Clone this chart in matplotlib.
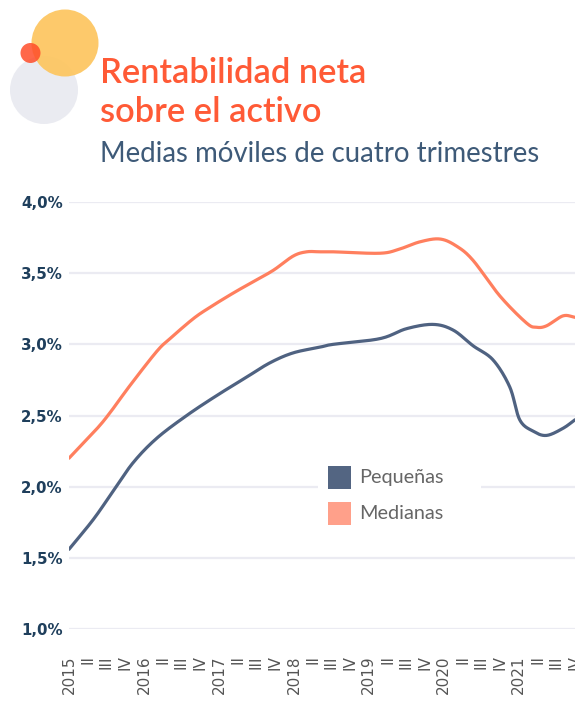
import numpy as np
import matplotlib
matplotlib.use("Agg")
import matplotlib.pyplot as plt
from matplotlib.patches import Circle, Rectangle

# ---------------- data ----------------
title_lines = ["Rentabilidad neta", "sobre el activo"]
subtitle = "Medias móviles de cuatro trimestres"
series_names = ["Pequeñas", "Medianas"]

# x positions in quarters since 2015-I
peq_q = [0, 1.30, 2.36, 3.43, 4.68, 6.28, 7.88, 9.48, 10.72, 11.96, 13.39, 14.10,
         16.59, 18.01, 19.43, 20.50, 21.56, 22.63, 23.52, 24.05, 24.76, 25.48, 26.36, 27.0]
peq_v = [1.56, 1.77, 1.97, 2.17, 2.34, 2.50, 2.64, 2.77, 2.87, 2.94, 2.98, 3.00,
         3.04, 3.11, 3.14, 3.10, 2.99, 2.89, 2.70, 2.47, 2.39, 2.36, 2.41, 2.47]

med_q = [0, 1.44, 2.19, 3.25, 4.68, 5.39, 6.63, 7.52, 8.76, 9.83, 10.90, 11.96, 12.68,
         13.39, 14.10, 16.59, 17.65, 18.72, 19.79, 20.68, 21.56, 22.99, 24.41, 24.94,
         25.48, 26.36, 27.0]
med_v = [2.20, 2.40, 2.52, 2.71, 2.95, 3.04, 3.18, 3.26, 3.36, 3.44, 3.52, 3.62, 3.65,
         3.65, 3.65, 3.64, 3.67, 3.72, 3.74, 3.69, 3.59, 3.34, 3.15, 3.12,
         3.13, 3.20, 3.19]

years = [2015, 2016, 2017, 2018, 2019, 2020, 2021, 2022]
quarter_names = ["", "II", "III", "IV"]
y_ticks = [1.0, 1.5, 2.0, 2.5, 3.0, 3.5, 4.0]

# ---------------- style ----------------
W, H = 575, 702
C_DARK = "#4f6281"
C_ORANGE = "#ff7f5e"
C_GRID = "#ebebf2"
C_TITLE = "#ff5a36"
C_SUB = "#3e5a78"
C_YLAB = "#1f3f5c"
C_XLAB = "#555555"

fig = plt.figure(figsize=(W / 100, H / 100), dpi=100)
fig.patch.set_facecolor("white")


def smooth(xs, ys, n=24):
    P = np.column_stack([xs, ys]).astype(float)
    P = np.vstack([2 * P[0] - P[1], P, 2 * P[-1] - P[-2]])
    out = []
    t = np.linspace(0, 1, n)[:, None]
    for i in range(1, len(P) - 2):
        p0, p1, p2, p3 = P[i - 1], P[i], P[i + 1], P[i + 2]
        seg = 0.5 * (2 * p1 + (-p0 + p2) * t + (2 * p0 - 5 * p1 + 4 * p2 - p3) * t ** 2
                     + (-p0 + 3 * p1 - 3 * p2 + p3) * t ** 3)
        out.append(seg if i == 1 else seg[1:])
    out = np.vstack(out)
    return out[:, 0], out[:, 1]


# ---------------- main axes ----------------
left_px, right_px, top_px, bot_px = 69, 575, 202, 629
ax = fig.add_axes([left_px / W, 1 - bot_px / H, (right_px - left_px) / W, (bot_px - top_px) / H])
ax.set_xlim(0, 27)
ax.set_ylim(1.0, 4.0)
for s in ax.spines.values():
    s.set_visible(False)

ax.set_yticks(y_ticks)
ax.set_yticklabels([f"{v:.1f}".replace(".", ",") + "%" for v in y_ticks])
ax.yaxis.grid(True, color=C_GRID, lw=1.6)
ax.tick_params(axis="y", length=0, pad=4.5, labelsize=10.8, labelcolor=C_YLAB)
for lab in ax.get_yticklabels():
    lab.set_fontweight("bold")
    lab.set_family("DejaVu Sans")

nq = 28
ax.set_xticks(range(nq))
xl = []
for q in range(nq):
    xl.append(str(years[q // 4]) if q % 4 == 0 else quarter_names[q % 4])
ax.set_xticklabels(xl, rotation=90, va="top", ha="center")
ax.tick_params(axis="x", which="major", length=0, pad=19, labelsize=11, labelcolor=C_XLAB)
year_pos = [q for q in range(nq) if q % 4 == 0]
ax.set_xticks(year_pos, minor=True)
ax.xaxis.grid(True, which="minor", color=C_GRID, lw=1.6)
ax.tick_params(axis="x", which="minor", length=11.5, width=1.6, color=C_GRID)
ax.set_axisbelow(True)

xs, ys = smooth(peq_q, peq_v)
ax.plot(xs, ys, color=C_DARK, lw=2.3, solid_capstyle="round", zorder=3)
xs, ys = smooth(med_q, med_v)
ax.plot(xs, ys, color=C_ORANGE, lw=2.3, solid_capstyle="round", zorder=3)

# ---------------- overlay (pixel coordinates) ----------------
ov = fig.add_axes([0, 0, 1, 1], zorder=5)
ov.set_xlim(0, W)
ov.set_ylim(H, 0)
ov.axis("off")
ov.patch.set_alpha(0)

ov.add_patch(Circle((44, 90), 34, color="#eaebf1", lw=0))
ov.add_patch(Circle((65, 43), 33.5, color="#fdc55e", alpha=0.92, lw=0))
ov.add_patch(Circle((30.5, 53), 10, color="#ff4d2a", alpha=0.85, lw=0))

renderer = fig.canvas.get_renderer()


def fit(t, target):
    for _ in range(3):
        w = t.get_window_extent(renderer).width
        t.set_fontsize(t.get_fontsize() * target / w)


t1 = ov.text(100, 83, title_lines[0], color=C_TITLE, fontsize=22, family="Lato",
             fontweight="semibold", va="baseline", ha="left")
fit(t1, 266)
t2 = ov.text(100, 122, title_lines[1], color=C_TITLE, fontsize=t1.get_fontsize(), family="Lato",
             fontweight="semibold", va="baseline", ha="left")
t3 = ov.text(100, 162, subtitle, color=C_SUB, fontsize=18, family="Lato",
             fontweight="normal", va="baseline", ha="left")
fit(t3, 438)

# legend
ov.add_patch(Rectangle((318, 458), 163, 74, color="white", lw=0))
leg_cols = ["#536582", "#ffa08a"]
for i, (name, c) in enumerate(zip(series_names, leg_cols)):
    y0 = 466 + 36 * i
    ov.add_patch(Rectangle((328, y0), 22.5, 23, color=c, lw=0))
    tt = ov.text(359, y0 + 17, name, color="#666666", fontsize=13, family="Lato",
                 va="baseline", ha="left")
    if i == 0:
        fit(tt, 85)
        lsize = tt.get_fontsize()
    else:
        tt.set_fontsize(lsize)

fig.savefig("out.png", dpi=100, facecolor="white")
